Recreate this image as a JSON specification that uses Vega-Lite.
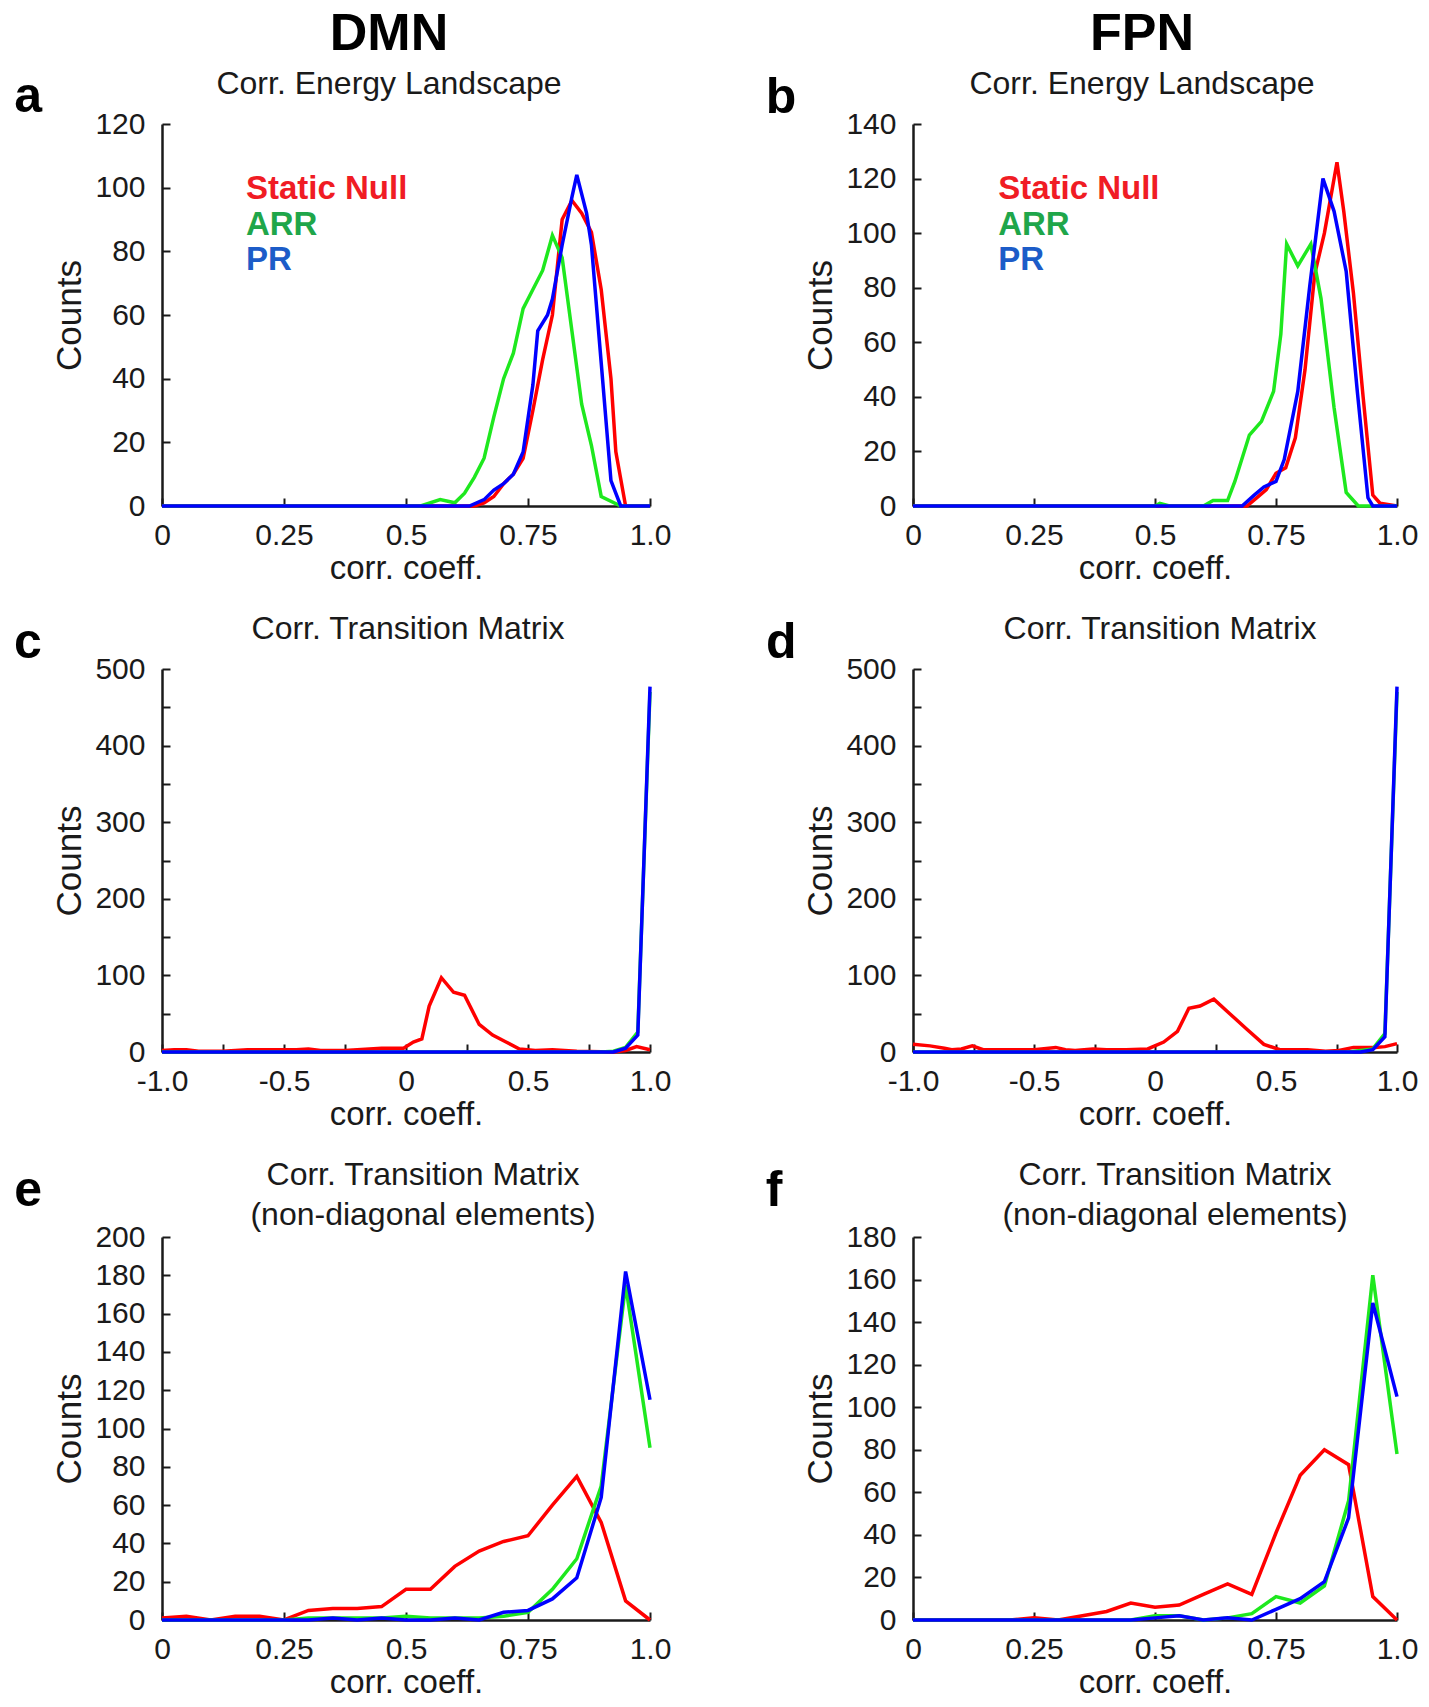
{
  "$schema": "https://vega.github.io/schema/vega-lite/v6.json",
  "padding": {"left": 13, "top": 7, "right": 5, "bottom": 5},
  "datasets": {
    "a": [
      {"s": "Static Null", "x": 0, "y": 0}, {"s": "Static Null", "x": 0.64, "y": 0}, {"s": "Static Null", "x": 0.66, "y": 1},
      {"s": "Static Null", "x": 0.68, "y": 3}, {"s": "Static Null", "x": 0.70, "y": 7}, {"s": "Static Null", "x": 0.72, "y": 10},
      {"s": "Static Null", "x": 0.74, "y": 15}, {"s": "Static Null", "x": 0.76, "y": 30}, {"s": "Static Null", "x": 0.78, "y": 46},
      {"s": "Static Null", "x": 0.80, "y": 60}, {"s": "Static Null", "x": 0.82, "y": 90}, {"s": "Static Null", "x": 0.84, "y": 96},
      {"s": "Static Null", "x": 0.86, "y": 92}, {"s": "Static Null", "x": 0.88, "y": 86}, {"s": "Static Null", "x": 0.90, "y": 68},
      {"s": "Static Null", "x": 0.92, "y": 40}, {"s": "Static Null", "x": 0.93, "y": 17}, {"s": "Static Null", "x": 0.95, "y": 0},
      {"s": "Static Null", "x": 1, "y": 0},
      {"s": "ARR", "x": 0, "y": 0}, {"s": "ARR", "x": 0.53, "y": 0}, {"s": "ARR", "x": 0.57, "y": 2}, {"s": "ARR", "x": 0.60, "y": 1},
      {"s": "ARR", "x": 0.62, "y": 4}, {"s": "ARR", "x": 0.64, "y": 9}, {"s": "ARR", "x": 0.66, "y": 15}, {"s": "ARR", "x": 0.68, "y": 28},
      {"s": "ARR", "x": 0.70, "y": 40}, {"s": "ARR", "x": 0.72, "y": 48}, {"s": "ARR", "x": 0.74, "y": 62}, {"s": "ARR", "x": 0.76, "y": 68},
      {"s": "ARR", "x": 0.78, "y": 74}, {"s": "ARR", "x": 0.80, "y": 85}, {"s": "ARR", "x": 0.82, "y": 78}, {"s": "ARR", "x": 0.84, "y": 55},
      {"s": "ARR", "x": 0.86, "y": 32}, {"s": "ARR", "x": 0.88, "y": 19}, {"s": "ARR", "x": 0.90, "y": 3}, {"s": "ARR", "x": 0.94, "y": 0},
      {"s": "ARR", "x": 1, "y": 0},
      {"s": "PR", "x": 0, "y": 0}, {"s": "PR", "x": 0.63, "y": 0}, {"s": "PR", "x": 0.66, "y": 2}, {"s": "PR", "x": 0.68, "y": 5},
      {"s": "PR", "x": 0.70, "y": 7}, {"s": "PR", "x": 0.72, "y": 10}, {"s": "PR", "x": 0.74, "y": 17}, {"s": "PR", "x": 0.76, "y": 38},
      {"s": "PR", "x": 0.77, "y": 55}, {"s": "PR", "x": 0.79, "y": 60}, {"s": "PR", "x": 0.80, "y": 65}, {"s": "PR", "x": 0.82, "y": 82},
      {"s": "PR", "x": 0.84, "y": 97}, {"s": "PR", "x": 0.85, "y": 104}, {"s": "PR", "x": 0.87, "y": 92}, {"s": "PR", "x": 0.88, "y": 82},
      {"s": "PR", "x": 0.90, "y": 45}, {"s": "PR", "x": 0.92, "y": 8}, {"s": "PR", "x": 0.94, "y": 0}, {"s": "PR", "x": 1, "y": 0}
    ],
    "b": [
      {"s": "Static Null", "x": 0, "y": 0}, {"s": "Static Null", "x": 0.69, "y": 0}, {"s": "Static Null", "x": 0.71, "y": 3},
      {"s": "Static Null", "x": 0.73, "y": 6}, {"s": "Static Null", "x": 0.75, "y": 12}, {"s": "Static Null", "x": 0.77, "y": 14},
      {"s": "Static Null", "x": 0.79, "y": 25}, {"s": "Static Null", "x": 0.81, "y": 50}, {"s": "Static Null", "x": 0.83, "y": 85},
      {"s": "Static Null", "x": 0.85, "y": 100}, {"s": "Static Null", "x": 0.876, "y": 126}, {"s": "Static Null", "x": 0.89, "y": 108},
      {"s": "Static Null", "x": 0.91, "y": 78}, {"s": "Static Null", "x": 0.93, "y": 40}, {"s": "Static Null", "x": 0.95, "y": 4},
      {"s": "Static Null", "x": 0.965, "y": 1}, {"s": "Static Null", "x": 1, "y": 0},
      {"s": "ARR", "x": 0, "y": 0}, {"s": "ARR", "x": 0.50, "y": 0}, {"s": "ARR", "x": 0.51, "y": 1}, {"s": "ARR", "x": 0.53, "y": 0},
      {"s": "ARR", "x": 0.60, "y": 0}, {"s": "ARR", "x": 0.62, "y": 2}, {"s": "ARR", "x": 0.65, "y": 2}, {"s": "ARR", "x": 0.665, "y": 9},
      {"s": "ARR", "x": 0.695, "y": 26}, {"s": "ARR", "x": 0.72, "y": 31}, {"s": "ARR", "x": 0.745, "y": 42}, {"s": "ARR", "x": 0.76, "y": 63},
      {"s": "ARR", "x": 0.772, "y": 96}, {"s": "ARR", "x": 0.795, "y": 88}, {"s": "ARR", "x": 0.822, "y": 96}, {"s": "ARR", "x": 0.843, "y": 76},
      {"s": "ARR", "x": 0.87, "y": 36}, {"s": "ARR", "x": 0.895, "y": 5}, {"s": "ARR", "x": 0.92, "y": 0}, {"s": "ARR", "x": 1, "y": 0},
      {"s": "PR", "x": 0, "y": 0}, {"s": "PR", "x": 0.68, "y": 0}, {"s": "PR", "x": 0.705, "y": 4}, {"s": "PR", "x": 0.725, "y": 7},
      {"s": "PR", "x": 0.75, "y": 9}, {"s": "PR", "x": 0.767, "y": 17}, {"s": "PR", "x": 0.795, "y": 42}, {"s": "PR", "x": 0.82, "y": 81},
      {"s": "PR", "x": 0.847, "y": 120}, {"s": "PR", "x": 0.87, "y": 108}, {"s": "PR", "x": 0.895, "y": 86}, {"s": "PR", "x": 0.918, "y": 42},
      {"s": "PR", "x": 0.94, "y": 3}, {"s": "PR", "x": 0.95, "y": 0}, {"s": "PR", "x": 1, "y": 0}
    ],
    "c": [
      {"s": "Static Null", "x": -1, "y": 2}, {"s": "Static Null", "x": -0.95, "y": 3}, {"s": "Static Null", "x": -0.9, "y": 3},
      {"s": "Static Null", "x": -0.85, "y": 1}, {"s": "Static Null", "x": -0.8, "y": 1}, {"s": "Static Null", "x": -0.75, "y": 1},
      {"s": "Static Null", "x": -0.7, "y": 2}, {"s": "Static Null", "x": -0.65, "y": 3}, {"s": "Static Null", "x": -0.6, "y": 3},
      {"s": "Static Null", "x": -0.55, "y": 3}, {"s": "Static Null", "x": -0.5, "y": 3}, {"s": "Static Null", "x": -0.45, "y": 3},
      {"s": "Static Null", "x": -0.4, "y": 4}, {"s": "Static Null", "x": -0.35, "y": 2}, {"s": "Static Null", "x": -0.3, "y": 2},
      {"s": "Static Null", "x": -0.25, "y": 2}, {"s": "Static Null", "x": -0.2, "y": 3}, {"s": "Static Null", "x": -0.15, "y": 4},
      {"s": "Static Null", "x": -0.1, "y": 5}, {"s": "Static Null", "x": -0.05, "y": 5}, {"s": "Static Null", "x": -0.01, "y": 5},
      {"s": "Static Null", "x": 0.03, "y": 13}, {"s": "Static Null", "x": 0.065, "y": 17}, {"s": "Static Null", "x": 0.095, "y": 60},
      {"s": "Static Null", "x": 0.145, "y": 97}, {"s": "Static Null", "x": 0.195, "y": 78}, {"s": "Static Null", "x": 0.24, "y": 74},
      {"s": "Static Null", "x": 0.3, "y": 36}, {"s": "Static Null", "x": 0.355, "y": 22}, {"s": "Static Null", "x": 0.41, "y": 13},
      {"s": "Static Null", "x": 0.465, "y": 4}, {"s": "Static Null", "x": 0.53, "y": 2}, {"s": "Static Null", "x": 0.6, "y": 3},
      {"s": "Static Null", "x": 0.7, "y": 1}, {"s": "Static Null", "x": 0.85, "y": 0}, {"s": "Static Null", "x": 0.9, "y": 2},
      {"s": "Static Null", "x": 0.945, "y": 7}, {"s": "Static Null", "x": 1, "y": 3},
      {"s": "ARR", "x": -1, "y": 0}, {"s": "ARR", "x": 0.8, "y": 0}, {"s": "ARR", "x": 0.85, "y": 1}, {"s": "ARR", "x": 0.9, "y": 6},
      {"s": "ARR", "x": 0.95, "y": 26}, {"s": "ARR", "x": 1, "y": 470},
      {"s": "PR", "x": -1, "y": 0}, {"s": "PR", "x": 0.85, "y": 0}, {"s": "PR", "x": 0.9, "y": 5}, {"s": "PR", "x": 0.95, "y": 22},
      {"s": "PR", "x": 1, "y": 477}
    ],
    "d": [
      {"s": "Static Null", "x": -1, "y": 10}, {"s": "Static Null", "x": -0.93, "y": 8}, {"s": "Static Null", "x": -0.87, "y": 5},
      {"s": "Static Null", "x": -0.84, "y": 3}, {"s": "Static Null", "x": -0.8, "y": 4}, {"s": "Static Null", "x": -0.755, "y": 8},
      {"s": "Static Null", "x": -0.71, "y": 3}, {"s": "Static Null", "x": -0.6, "y": 3}, {"s": "Static Null", "x": -0.5, "y": 3},
      {"s": "Static Null", "x": -0.41, "y": 6}, {"s": "Static Null", "x": -0.37, "y": 3}, {"s": "Static Null", "x": -0.33, "y": 2},
      {"s": "Static Null", "x": -0.256, "y": 4}, {"s": "Static Null", "x": -0.2, "y": 3}, {"s": "Static Null", "x": -0.12, "y": 3},
      {"s": "Static Null", "x": -0.03, "y": 4}, {"s": "Static Null", "x": 0.036, "y": 13}, {"s": "Static Null", "x": 0.093, "y": 27},
      {"s": "Static Null", "x": 0.14, "y": 57}, {"s": "Static Null", "x": 0.186, "y": 60}, {"s": "Static Null", "x": 0.243, "y": 69},
      {"s": "Static Null", "x": 0.309, "y": 50}, {"s": "Static Null", "x": 0.375, "y": 31}, {"s": "Static Null", "x": 0.45, "y": 10},
      {"s": "Static Null", "x": 0.516, "y": 3}, {"s": "Static Null", "x": 0.63, "y": 3}, {"s": "Static Null", "x": 0.705, "y": 1},
      {"s": "Static Null", "x": 0.76, "y": 2}, {"s": "Static Null", "x": 0.82, "y": 6}, {"s": "Static Null", "x": 0.91, "y": 6},
      {"s": "Static Null", "x": 0.95, "y": 7}, {"s": "Static Null", "x": 1, "y": 11},
      {"s": "ARR", "x": -1, "y": 0}, {"s": "ARR", "x": 0.8, "y": 0}, {"s": "ARR", "x": 0.85, "y": 2}, {"s": "ARR", "x": 0.9, "y": 4},
      {"s": "ARR", "x": 0.95, "y": 24}, {"s": "ARR", "x": 1, "y": 470},
      {"s": "PR", "x": -1, "y": 0}, {"s": "PR", "x": 0.85, "y": 0}, {"s": "PR", "x": 0.9, "y": 3}, {"s": "PR", "x": 0.95, "y": 20},
      {"s": "PR", "x": 1, "y": 477}
    ],
    "e": [
      {"s": "Static Null", "x": 0, "y": 1}, {"s": "Static Null", "x": 0.05, "y": 2}, {"s": "Static Null", "x": 0.1, "y": 0},
      {"s": "Static Null", "x": 0.15, "y": 2}, {"s": "Static Null", "x": 0.2, "y": 2}, {"s": "Static Null", "x": 0.25, "y": 0},
      {"s": "Static Null", "x": 0.3, "y": 5}, {"s": "Static Null", "x": 0.35, "y": 6}, {"s": "Static Null", "x": 0.4, "y": 6},
      {"s": "Static Null", "x": 0.45, "y": 7}, {"s": "Static Null", "x": 0.5, "y": 16}, {"s": "Static Null", "x": 0.55, "y": 16},
      {"s": "Static Null", "x": 0.6, "y": 28}, {"s": "Static Null", "x": 0.65, "y": 36}, {"s": "Static Null", "x": 0.7, "y": 41},
      {"s": "Static Null", "x": 0.75, "y": 44}, {"s": "Static Null", "x": 0.8, "y": 60}, {"s": "Static Null", "x": 0.85, "y": 75},
      {"s": "Static Null", "x": 0.9, "y": 51}, {"s": "Static Null", "x": 0.95, "y": 10}, {"s": "Static Null", "x": 1, "y": 0},
      {"s": "ARR", "x": 0, "y": 0}, {"s": "ARR", "x": 0.05, "y": 0}, {"s": "ARR", "x": 0.1, "y": 0}, {"s": "ARR", "x": 0.15, "y": 0},
      {"s": "ARR", "x": 0.2, "y": 0}, {"s": "ARR", "x": 0.25, "y": 0}, {"s": "ARR", "x": 0.3, "y": 1}, {"s": "ARR", "x": 0.35, "y": 1},
      {"s": "ARR", "x": 0.4, "y": 1}, {"s": "ARR", "x": 0.45, "y": 1}, {"s": "ARR", "x": 0.5, "y": 2}, {"s": "ARR", "x": 0.55, "y": 1},
      {"s": "ARR", "x": 0.6, "y": 1}, {"s": "ARR", "x": 0.65, "y": 1}, {"s": "ARR", "x": 0.7, "y": 2}, {"s": "ARR", "x": 0.75, "y": 4},
      {"s": "ARR", "x": 0.8, "y": 16}, {"s": "ARR", "x": 0.85, "y": 32}, {"s": "ARR", "x": 0.9, "y": 70}, {"s": "ARR", "x": 0.95, "y": 175},
      {"s": "ARR", "x": 1, "y": 90},
      {"s": "PR", "x": 0, "y": 0}, {"s": "PR", "x": 0.05, "y": 0}, {"s": "PR", "x": 0.1, "y": 0}, {"s": "PR", "x": 0.15, "y": 0},
      {"s": "PR", "x": 0.2, "y": 0}, {"s": "PR", "x": 0.25, "y": 0}, {"s": "PR", "x": 0.3, "y": 0}, {"s": "PR", "x": 0.35, "y": 1},
      {"s": "PR", "x": 0.4, "y": 0}, {"s": "PR", "x": 0.45, "y": 1}, {"s": "PR", "x": 0.5, "y": 0}, {"s": "PR", "x": 0.55, "y": 0},
      {"s": "PR", "x": 0.6, "y": 1}, {"s": "PR", "x": 0.65, "y": 0}, {"s": "PR", "x": 0.7, "y": 4}, {"s": "PR", "x": 0.75, "y": 5},
      {"s": "PR", "x": 0.8, "y": 11}, {"s": "PR", "x": 0.85, "y": 22}, {"s": "PR", "x": 0.9, "y": 64}, {"s": "PR", "x": 0.95, "y": 182},
      {"s": "PR", "x": 1, "y": 115}
    ],
    "f": [
      {"s": "Static Null", "x": 0, "y": 0}, {"s": "Static Null", "x": 0.05, "y": 0}, {"s": "Static Null", "x": 0.1, "y": 0},
      {"s": "Static Null", "x": 0.15, "y": 0}, {"s": "Static Null", "x": 0.2, "y": 0}, {"s": "Static Null", "x": 0.25, "y": 1},
      {"s": "Static Null", "x": 0.3, "y": 0}, {"s": "Static Null", "x": 0.35, "y": 2}, {"s": "Static Null", "x": 0.4, "y": 4},
      {"s": "Static Null", "x": 0.45, "y": 8}, {"s": "Static Null", "x": 0.5, "y": 6}, {"s": "Static Null", "x": 0.55, "y": 7},
      {"s": "Static Null", "x": 0.6, "y": 12}, {"s": "Static Null", "x": 0.65, "y": 17}, {"s": "Static Null", "x": 0.7, "y": 12},
      {"s": "Static Null", "x": 0.75, "y": 41}, {"s": "Static Null", "x": 0.8, "y": 68}, {"s": "Static Null", "x": 0.85, "y": 80},
      {"s": "Static Null", "x": 0.9, "y": 73}, {"s": "Static Null", "x": 0.95, "y": 11}, {"s": "Static Null", "x": 1, "y": 0},
      {"s": "ARR", "x": 0, "y": 0}, {"s": "ARR", "x": 0.45, "y": 0}, {"s": "ARR", "x": 0.5, "y": 2}, {"s": "ARR", "x": 0.55, "y": 2},
      {"s": "ARR", "x": 0.6, "y": 0}, {"s": "ARR", "x": 0.65, "y": 1}, {"s": "ARR", "x": 0.7, "y": 3}, {"s": "ARR", "x": 0.75, "y": 11},
      {"s": "ARR", "x": 0.8, "y": 8}, {"s": "ARR", "x": 0.85, "y": 16}, {"s": "ARR", "x": 0.9, "y": 56}, {"s": "ARR", "x": 0.95, "y": 162},
      {"s": "ARR", "x": 1, "y": 78},
      {"s": "PR", "x": 0, "y": 0}, {"s": "PR", "x": 0.45, "y": 0}, {"s": "PR", "x": 0.5, "y": 1}, {"s": "PR", "x": 0.55, "y": 2},
      {"s": "PR", "x": 0.6, "y": 0}, {"s": "PR", "x": 0.65, "y": 1}, {"s": "PR", "x": 0.7, "y": 0}, {"s": "PR", "x": 0.75, "y": 5},
      {"s": "PR", "x": 0.8, "y": 10}, {"s": "PR", "x": 0.85, "y": 18}, {"s": "PR", "x": 0.9, "y": 48}, {"s": "PR", "x": 0.95, "y": 149},
      {"s": "PR", "x": 1, "y": 105}
    ]
  },
  "spacing": 27,
  "vconcat": [
    {
      "spacing": 263,
      "bounds": "flush",
      "hconcat": [
        {
          "width": 488, "height": 382,
          "data": {"name": "a"},
          "title": {"text": "DMN", "subtitle": "Corr. Energy Landscape", "fontSize": 52, "fontWeight": "bold", "color": "#000000", "subtitleFont": "Liberation Sans", "subtitleFontSize": 32, "subtitleColor": "#1a1a1a", "subtitlePadding": 8, "offset": -29, "dx": -17},
          "layer": [
            {
              "mark": {"type": "line", "strokeWidth": 3.5},
              "encoding": {
                "x": {"field": "x", "type": "quantitative", "scale": {"domain": [0, 1], "nice": false},
                      "axis": {"title": "corr. coeff.", "values": [0, 0.25, 0.5, 0.75, 1], "labelExpr": "datum.value == 1 ? '1.0' : datum.value == 0 ? '0' : datum.value == 0.5 ? '0.5' : datum.value == 0.25 ? '0.25' : '0.75'"}},
                "y": {"field": "y", "type": "quantitative", "scale": {"domain": [0, 120], "nice": false},
                      "axis": {"title": "Counts", "values": [0, 20, 40, 60, 80, 100, 120]}},
                "color": {"field": "s", "type": "nominal", "scale": {"domain": ["Static Null", "ARR", "PR"], "range": ["#ff0000", "#1ee81e", "#0000ff"]}, "legend": null}
              }
            },
            {"data": {"values": [{}]}, "mark": {"type": "text", "text": "a", "fontSize": 50, "fontWeight": "bold", "color": "#000000"},
             "encoding": {"x": {"datum": -0.303, "type": "quantitative", "title": "corr. coeff."},
                          "y": {"datum": 123.8, "type": "quantitative", "axis": {"title": "Counts", "values": [0, 20, 40, 60, 80, 100, 120]}}}},
            {"data": {"values": [{}]}, "mark": {"type": "text", "text": "Static Null", "fontSize": 33, "fontWeight": "bold", "color": "#f01c24"},
             "encoding": {"x": {"datum": 0.172, "type": "quantitative", "title": "corr. coeff."},
                          "y": {"datum": 96.4, "type": "quantitative", "axis": {"title": "Counts", "values": [0, 20, 40, 60, 80, 100, 120]}}}},
            {"data": {"values": [{}]}, "mark": {"type": "text", "text": "ARR", "fontSize": 33, "fontWeight": "bold", "color": "#1fa64a"},
             "encoding": {"x": {"datum": 0.172, "type": "quantitative", "title": "corr. coeff."},
                          "y": {"datum": 85.1, "type": "quantitative", "axis": {"title": "Counts", "values": [0, 20, 40, 60, 80, 100, 120]}}}},
            {"data": {"values": [{}]}, "mark": {"type": "text", "text": "PR", "fontSize": 33, "fontWeight": "bold", "color": "#1c5cc8"},
             "encoding": {"x": {"datum": 0.172, "type": "quantitative", "title": "corr. coeff."},
                          "y": {"datum": 74.1, "type": "quantitative", "axis": {"title": "Counts", "values": [0, 20, 40, 60, 80, 100, 120]}}}}
          ]
        },
        {
          "width": 484, "height": 382,
          "data": {"name": "b"},
          "title": {"text": "FPN", "subtitle": "Corr. Energy Landscape", "fontSize": 52, "fontWeight": "bold", "color": "#000000", "subtitleFont": "Liberation Sans", "subtitleFontSize": 32, "subtitleColor": "#1a1a1a", "subtitlePadding": 8, "offset": -28, "dx": -13},
          "layer": [
            {
              "mark": {"type": "line", "strokeWidth": 3.5},
              "encoding": {
                "x": {"field": "x", "type": "quantitative", "scale": {"domain": [0, 1], "nice": false},
                      "axis": {"title": "corr. coeff.", "values": [0, 0.25, 0.5, 0.75, 1], "labelExpr": "datum.value == 1 ? '1.0' : datum.value == 0 ? '0' : datum.value == 0.5 ? '0.5' : datum.value == 0.25 ? '0.25' : '0.75'"}},
                "y": {"field": "y", "type": "quantitative", "scale": {"domain": [0, 140], "nice": false},
                      "axis": {"title": "Counts", "values": [0, 20, 40, 60, 80, 100, 120, 140]}},
                "color": {"field": "s", "type": "nominal", "scale": {"domain": ["Static Null", "ARR", "PR"], "range": ["#ff0000", "#1ee81e", "#0000ff"]}, "legend": null}
              }
            },
            {"data": {"values": [{}]}, "mark": {"type": "text", "text": "b", "fontSize": 50, "fontWeight": "bold", "color": "#000000"},
             "encoding": {"x": {"datum": -0.304, "type": "quantitative", "title": "corr. coeff."},
                          "y": {"datum": 144.0, "type": "quantitative", "axis": {"title": "Counts", "values": [0, 20, 40, 60, 80, 100, 120, 140]}}}},
            {"data": {"values": [{}]}, "mark": {"type": "text", "text": "Static Null", "fontSize": 33, "fontWeight": "bold", "color": "#f01c24"},
             "encoding": {"x": {"datum": 0.176, "type": "quantitative", "title": "corr. coeff."},
                          "y": {"datum": 112.5, "type": "quantitative", "axis": {"title": "Counts", "values": [0, 20, 40, 60, 80, 100, 120, 140]}}}},
            {"data": {"values": [{}]}, "mark": {"type": "text", "text": "ARR", "fontSize": 33, "fontWeight": "bold", "color": "#1fa64a"},
             "encoding": {"x": {"datum": 0.176, "type": "quantitative", "title": "corr. coeff."},
                          "y": {"datum": 99.3, "type": "quantitative", "axis": {"title": "Counts", "values": [0, 20, 40, 60, 80, 100, 120, 140]}}}},
            {"data": {"values": [{}]}, "mark": {"type": "text", "text": "PR", "fontSize": 33, "fontWeight": "bold", "color": "#1c5cc8"},
             "encoding": {"x": {"datum": 0.176, "type": "quantitative", "title": "corr. coeff."},
                          "y": {"datum": 86.5, "type": "quantitative", "axis": {"title": "Counts", "values": [0, 20, 40, 60, 80, 100, 120, 140]}}}}
          ]
        }
      ]
    },
    {
      "spacing": 263,
      "bounds": "flush",
      "hconcat": [
        {
          "width": 488, "height": 383,
          "data": {"name": "c"},
          "title": {"text": "Corr. Transition Matrix", "offset": -28, "dx": 2},
          "layer": [
            {
              "mark": {"type": "line", "strokeWidth": 3.5},
              "encoding": {
                "x": {"field": "x", "type": "quantitative", "scale": {"domain": [-1, 1], "nice": false},
                      "axis": {"title": "corr. coeff.", "values": [-1, -0.75, -0.5, -0.25, 0, 0.25, 0.5, 0.75, 1], "labelExpr": "datum.value == -1 ? '-1.0' : datum.value == -0.5 ? '-0.5' : datum.value == 0 ? '0' : datum.value == 0.5 ? '0.5' : datum.value == 1 ? '1.0' : ''"}},
                "y": {"field": "y", "type": "quantitative", "scale": {"domain": [0, 500], "nice": false},
                      "axis": {"title": "Counts", "values": [0, 50, 100, 150, 200, 250, 300, 350, 400, 450, 500], "labelExpr": "datum.value % 100 == 0 ? datum.label : ''"}},
                "color": {"field": "s", "type": "nominal", "scale": {"domain": ["Static Null", "ARR", "PR"], "range": ["#ff0000", "#1ee81e", "#0000ff"]}, "legend": null}
              }
            },
            {"data": {"values": [{}]}, "mark": {"type": "text", "text": "c", "fontSize": 50, "fontWeight": "bold", "color": "#000000"},
             "encoding": {"x": {"datum": -1.607, "type": "quantitative", "title": "corr. coeff."},
                          "y": {"datum": 514.4, "type": "quantitative", "axis": {"title": "Counts", "values": [0, 50, 100, 150, 200, 250, 300, 350, 400, 450, 500], "labelExpr": "datum.value % 100 == 0 ? datum.label : ''"}}}}
          ]
        },
        {
          "width": 484, "height": 383,
          "data": {"name": "d"},
          "title": {"text": "Corr. Transition Matrix", "offset": -28, "dx": 5},
          "layer": [
            {
              "mark": {"type": "line", "strokeWidth": 3.5},
              "encoding": {
                "x": {"field": "x", "type": "quantitative", "scale": {"domain": [-1, 1], "nice": false},
                      "axis": {"title": "corr. coeff.", "values": [-1, -0.75, -0.5, -0.25, 0, 0.25, 0.5, 0.75, 1], "labelExpr": "datum.value == -1 ? '-1.0' : datum.value == -0.5 ? '-0.5' : datum.value == 0 ? '0' : datum.value == 0.5 ? '0.5' : datum.value == 1 ? '1.0' : ''"}},
                "y": {"field": "y", "type": "quantitative", "scale": {"domain": [0, 500], "nice": false},
                      "axis": {"title": "Counts", "values": [0, 50, 100, 150, 200, 250, 300, 350, 400, 450, 500], "labelExpr": "datum.value % 100 == 0 ? datum.label : ''"}},
                "color": {"field": "s", "type": "nominal", "scale": {"domain": ["Static Null", "ARR", "PR"], "range": ["#ff0000", "#1ee81e", "#0000ff"]}, "legend": null}
              }
            },
            {"data": {"values": [{}]}, "mark": {"type": "text", "text": "d", "fontSize": 50, "fontWeight": "bold", "color": "#000000"},
             "encoding": {"x": {"datum": -1.607, "type": "quantitative", "title": "corr. coeff."},
                          "y": {"datum": 514.4, "type": "quantitative", "axis": {"title": "Counts", "values": [0, 50, 100, 150, 200, 250, 300, 350, 400, 450, 500], "labelExpr": "datum.value % 100 == 0 ? datum.label : ''"}}}}
          ]
        }
      ]
    },
    {
      "spacing": 263,
      "bounds": "flush",
      "hconcat": [
        {
          "width": 488, "height": 383,
          "data": {"name": "e"},
          "title": {"text": ["Corr. Transition Matrix", "(non-diagonal elements)"], "lineHeight": 40, "offset": -66, "dx": 17},
          "layer": [
            {
              "mark": {"type": "line", "strokeWidth": 3.5},
              "encoding": {
                "x": {"field": "x", "type": "quantitative", "scale": {"domain": [0, 1], "nice": false},
                      "axis": {"title": "corr. coeff.", "values": [0, 0.25, 0.5, 0.75, 1], "labelExpr": "datum.value == 1 ? '1.0' : datum.value == 0 ? '0' : datum.value == 0.5 ? '0.5' : datum.value == 0.25 ? '0.25' : '0.75'"}},
                "y": {"field": "y", "type": "quantitative", "scale": {"domain": [0, 200], "nice": false},
                      "axis": {"title": "Counts", "values": [0, 20, 40, 60, 80, 100, 120, 140, 160, 180, 200], "labelExpr": "datum.value + ''"}},
                "color": {"field": "s", "type": "nominal", "scale": {"domain": ["Static Null", "ARR", "PR"], "range": ["#ff0000", "#1ee81e", "#0000ff"]}, "legend": null}
              }
            },
            {"data": {"values": [{}]}, "mark": {"type": "text", "text": "e", "fontSize": 50, "fontWeight": "bold", "color": "#000000"},
             "encoding": {"x": {"datum": -0.303, "type": "quantitative", "title": "corr. coeff."},
                          "y": {"datum": 216.2, "type": "quantitative", "axis": {"title": "Counts", "values": [0, 20, 40, 60, 80, 100, 120, 140, 160, 180, 200], "labelExpr": "datum.value + ''"}}}}
          ]
        },
        {
          "width": 484, "height": 383,
          "data": {"name": "f"},
          "title": {"text": ["Corr. Transition Matrix", "(non-diagonal elements)"], "lineHeight": 40, "offset": -66, "dx": 20},
          "layer": [
            {
              "mark": {"type": "line", "strokeWidth": 3.5},
              "encoding": {
                "x": {"field": "x", "type": "quantitative", "scale": {"domain": [0, 1], "nice": false},
                      "axis": {"title": "corr. coeff.", "values": [0, 0.25, 0.5, 0.75, 1], "labelExpr": "datum.value == 1 ? '1.0' : datum.value == 0 ? '0' : datum.value == 0.5 ? '0.5' : datum.value == 0.25 ? '0.25' : '0.75'"}},
                "y": {"field": "y", "type": "quantitative", "scale": {"domain": [0, 180], "nice": false},
                      "axis": {"title": "Counts", "values": [0, 20, 40, 60, 80, 100, 120, 140, 160, 180]}},
                "color": {"field": "s", "type": "nominal", "scale": {"domain": ["Static Null", "ARR", "PR"], "range": ["#ff0000", "#1ee81e", "#0000ff"]}, "legend": null}
              }
            },
            {"data": {"values": [{}]}, "mark": {"type": "text", "text": "f", "fontSize": 50, "fontWeight": "bold", "color": "#000000"},
             "encoding": {"x": {"datum": -0.304, "type": "quantitative", "title": "corr. coeff."},
                          "y": {"datum": 194.6, "type": "quantitative", "axis": {"title": "Counts", "values": [0, 20, 40, 60, 80, 100, 120, 140, 160, 180]}}}}
          ]
        }
      ]
    }
  ],
  "config": {
    "font": "Liberation Sans",
    "view": {"stroke": null},
    "text": {"font": "Liberation Sans", "align": "left", "baseline": "alphabetic"},
    "title": {"font": "Liberation Sans", "fontSize": 32, "fontWeight": "normal", "color": "#1a1a1a", "anchor": "middle", "frame": "group"},
    "axis": {
      "grid": false,
      "domainColor": "#1a1a1a",
      "domainWidth": 2.5,
      "tickColor": "#1a1a1a",
      "tickWidth": 2,
      "tickSize": -8,
      "labelFont": "Liberation Sans",
      "labelFontSize": 30,
      "labelColor": "#1a1a1a",
      "labelFlush": false,
      "labelOverlap": false,
      "labelSeparation": -12,
      "labelBound": false,
      "titleFont": "Liberation Sans",
      "titleFontWeight": "normal",
      "titleColor": "#1a1a1a"
    },
    "axisQuantitative": {"labelOverlap": false},
    "axisX": {"labelPadding": 22, "titlePadding": 2, "titleFontSize": 33},
    "axisY": {"labelPadding": 25, "titlePadding": 7, "titleFontSize": 35, "labelOverlap": false}
  }
}
